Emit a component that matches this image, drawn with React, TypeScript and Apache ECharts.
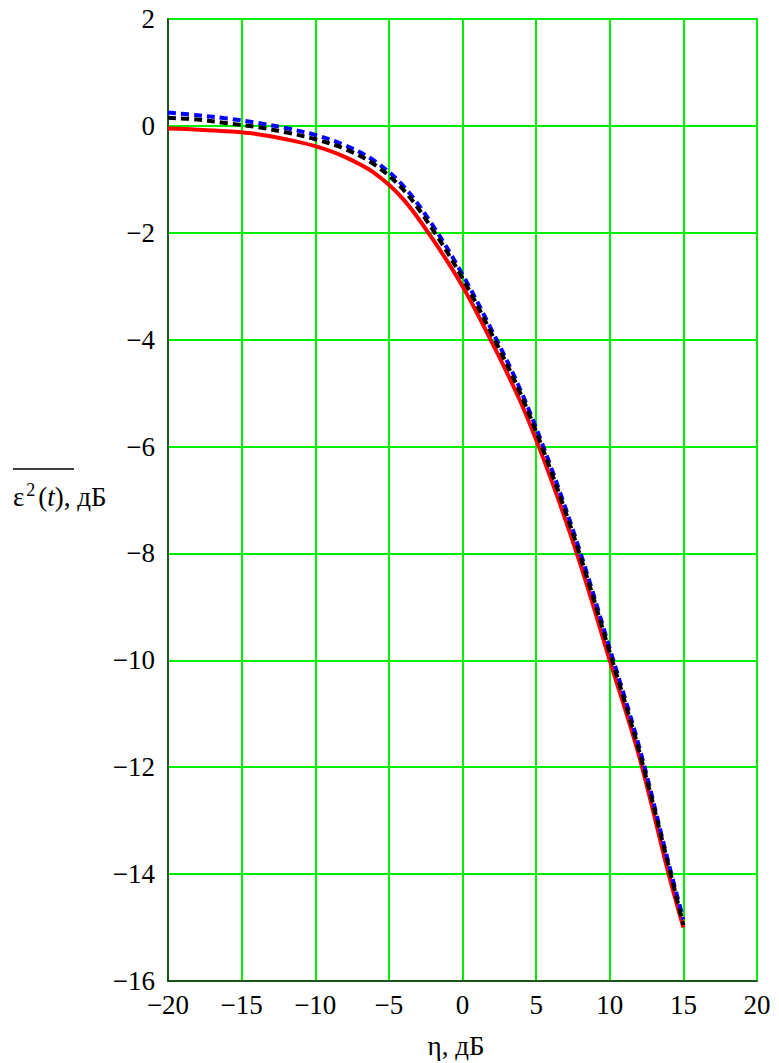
import React, { useEffect, useRef } from "react";
import * as echarts from "echarts";

const etaDb = [-20, -18, -16, -14, -12, -10, -8, -6, -4, -2, 0, 2, 4, 6, 8, 10, 12, 14, 15];
const redSeries = [-0.05, -0.07, -0.1, -0.15, -0.25, -0.38, -0.58, -0.88, -1.38, -2.13, -3.0, -4.05, -5.2, -6.6, -8.2, -10.0, -11.8, -14.0, -15.0];
const blackSeries = [0.15, 0.12, 0.05, -0.02, -0.12, -0.25, -0.43, -0.72, -1.2, -1.95, -2.85, -3.9, -5.05, -6.45, -8.05, -9.85, -11.7, -13.85, -14.95];
const blueSeries = [0.25, 0.2, 0.14, 0.06, -0.04, -0.17, -0.36, -0.65, -1.13, -1.87, -2.78, -3.83, -4.98, -6.38, -7.98, -9.78, -11.62, -13.8, -14.85];

const xTicks = { min: -20, max: 20, interval: 5 };
const yTicks = { min: -16, max: 2, interval: 2 };

const FONT = "Liberation Serif";
const fmt = (v: number) => String(v).replace("-", "\u2212");
const pairs = (ys: number[]) => etaDb.map((x, i) => [x, ys[i]]);

export default function App() {
  const ref = useRef<HTMLDivElement>(null);
  useEffect(() => {
    if (!ref.current) return;
    const chart = echarts.init(ref.current, null, { renderer: "svg" });
    chart.setOption({
      animation: false,
      backgroundColor: "#ffffff",
      textStyle: { fontFamily: FONT },
      grid: {
        left: 168,
        top: 19,
        right: 22,
        bottom: 82,
        show: true,
        borderColor: "#222",
        borderWidth: 1.5,
        backgroundColor: "transparent",
      },
      xAxis: {
        type: "value",
        min: xTicks.min,
        max: xTicks.max,
        interval: xTicks.interval,
        axisLine: { show: true, onZero: false, lineStyle: { color: "#222", width: 1.5 } },
        axisTick: { show: false },
        splitLine: { show: true, lineStyle: { color: "#00ee00", width: 2 } },
        axisLabel: {
          formatter: fmt,
          fontFamily: FONT,
          fontSize: 27,
          color: "#000",
          margin: 10,
        },
      },
      yAxis: {
        type: "value",
        min: yTicks.min,
        max: yTicks.max,
        interval: yTicks.interval,
        axisLine: { show: true, onZero: false, lineStyle: { color: "#222", width: 1.5 } },
        axisTick: { show: false },
        splitLine: { show: true, lineStyle: { color: "#00ee00", width: 2 } },
        axisLabel: {
          formatter: fmt,
          fontFamily: FONT,
          fontSize: 27,
          color: "#000",
          margin: 13,
        },
      },
      series: [
        {
          type: "line",
          data: pairs(redSeries),
          smooth: 0.35,
          symbol: "none",
          lineStyle: { color: "#ff0000", width: 4 },
          z: 2,
        },
        {
          type: "line",
          data: pairs(blueSeries),
          smooth: 0.35,
          symbol: "none",
          lineStyle: { color: "#0000ff", width: 4, type: [8, 5] },
          z: 3,
        },
        {
          type: "line",
          data: pairs(blackSeries),
          smooth: 0.35,
          symbol: "none",
          lineStyle: { color: "#000000", width: 4, type: [8, 5] },
          z: 4,
        },
      ],
      graphic: [
        {
          type: "line",
          shape: { x1: 13, y1: 469, x2: 74, y2: 469 },
          style: { stroke: "#000", lineWidth: 1.5 },
        },
        {
          type: "text",
          x: 13,
          y: 497,
          style: {
            text: "{a|ε}{s|2}{a|(}{i|t}{a|)}{a|, дБ}",
            verticalAlign: "middle",
            rich: {
              a: { fontFamily: FONT, fontSize: 27, fill: "#000" },
              i: { fontFamily: FONT, fontSize: 27, fontStyle: "italic", fill: "#000" },
              s: { fontFamily: FONT, fontSize: 18, fill: "#000", verticalAlign: "top", padding: [0, 3, 14, 2] },
            },
          },
        },
        {
          type: "text",
          x: 456,
          y: 1046,
          style: {
            text: "η, дБ",
            fontFamily: FONT,
            fontSize: 27,
            fill: "#000",
            align: "center",
            verticalAlign: "middle",
          },
        },
      ],
    });
    return () => chart.dispose();
  }, []);
  return (
    <div
      ref={ref}
      style={{ position: "absolute", left: 0, top: 0, width: 779, height: 1063 }}
    />
  );
}
